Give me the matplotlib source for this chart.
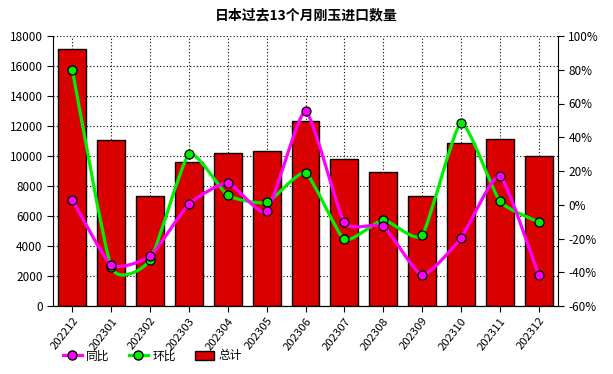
import matplotlib
matplotlib.use("Agg")
import matplotlib.pyplot as plt
import numpy as np
from matplotlib.path import Path
from matplotlib.patches import PathPatch, Patch
from matplotlib.lines import Line2D

plt.rcParams['font.family'] = ['Noto Sans CJK SC', 'DejaVu Sans']

# Data
months = ["202212", "202301", "202302", "202303", "202304", "202305", "202306",
          "202307", "202308", "202309", "202310", "202311", "202312"]
total = [17110, 11070, 7330, 9580, 10180, 10330, 12310, 9780, 8930, 7310, 10840, 11130, 9980]
yoy = [2.8, -35.7, -30.4, 0.4, 12.9, -3.9, 55.4, -10.4, -12.8, -41.6, -19.7, 17.0, -41.6]
mom = [79.7, -36.9, -32.7, 29.9, 5.6, 1.4, 18.8, -20.5, -9.0, -18.1, 48.3, 2.2, -10.2]


def smooth_path(xs, ys, k=0.09):
    # softened Catmull-Rom curve through the points, as cubic bezier segments
    pts = np.column_stack([xs, ys]).astype(float)
    verts = [pts[0]]
    codes = [Path.MOVETO]
    n = len(pts)
    for i in range(n - 1):
        p0 = pts[i - 1] if i > 0 else pts[i]
        p1 = pts[i]
        p2 = pts[i + 1]
        p3 = pts[i + 2] if i + 2 < n else pts[i + 1]
        c1 = p1 + (p2 - p0) * k
        c2 = p2 - (p3 - p1) * k
        verts += [c1, c2, p2]
        codes += [Path.CURVE4] * 3
    return Path(verts, codes)


x = np.arange(len(months))

fig = plt.figure(figsize=(6.13, 3.74), dpi=100)
ax = fig.add_axes([53 / 613, 1 - 306 / 374, 505 / 613, 270 / 374])

ax.bar(x, total, width=0.72, color="#d90000", edgecolor="black", linewidth=1.0, zorder=2)
ax.set_xlim(-0.5, 12.5)
ax.set_ylim(0, 18000)
ax.set_yticks(np.arange(0, 18001, 2000))
ax.set_xticks(x)
ax.set_xticklabels(months, rotation=52, ha="right", rotation_mode="anchor", fontsize=8.2)
ax.tick_params(axis="y", labelsize=8.5, length=4, direction="out")
ax.tick_params(axis="x", length=4, direction="out", pad=3)
ax.grid(True, linestyle=(0, (1, 2)), color="black", linewidth=0.8, zorder=0)
ax.set_axisbelow(True)
ax.spines["top"].set_visible(False)
ax.spines["right"].set_visible(False)

ax2 = ax.twinx()
ax2.set_ylim(-60, 100)
ax2.set_yticks(np.arange(-60, 101, 20))
ax2.set_yticklabels([f"{v}%" for v in range(-60, 101, 20)])
ax2.tick_params(axis="y", labelsize=8.5, length=4, direction="out")
ax2.spines["top"].set_visible(False)
ax2.spines["left"].set_visible(False)

for vals, col in [(mom, "#00ee00"), (yoy, "#ff00ff")]:
    ax2.add_patch(PathPatch(smooth_path(x, vals), facecolor="none", edgecolor=col,
                            linewidth=2.3, zorder=3))
    ax2.plot(x, vals, linestyle="none", marker="o", markersize=6.5,
             markerfacecolor=col, markeredgecolor="black", markeredgewidth=0.9, zorder=4)

fig.text(0.5, 1 - 15 / 374, "日本过去13个月刚玉进口数量", ha="center", va="center",
         fontsize=10, fontweight="bold")

handles = [
    Line2D([], [], color="#ff00ff", linewidth=2.3, marker="o", markersize=6.5,
           markerfacecolor="#ff00ff", markeredgecolor="black"),
    Line2D([], [], color="#00ee00", linewidth=2.3, marker="o", markersize=6.5,
           markerfacecolor="#00ee00", markeredgecolor="black"),
    Patch(facecolor="#d90000", edgecolor="black"),
]
fig.legend(handles, ["同比", "环比", "总计"], loc="center left",
           bbox_to_anchor=(52 / 613, 1 - 356 / 374), ncol=3, frameon=False,
           fontsize=8.5, handlelength=1.6, columnspacing=1.6, handletextpad=0.4)

fig.savefig("out.png", dpi=100)
